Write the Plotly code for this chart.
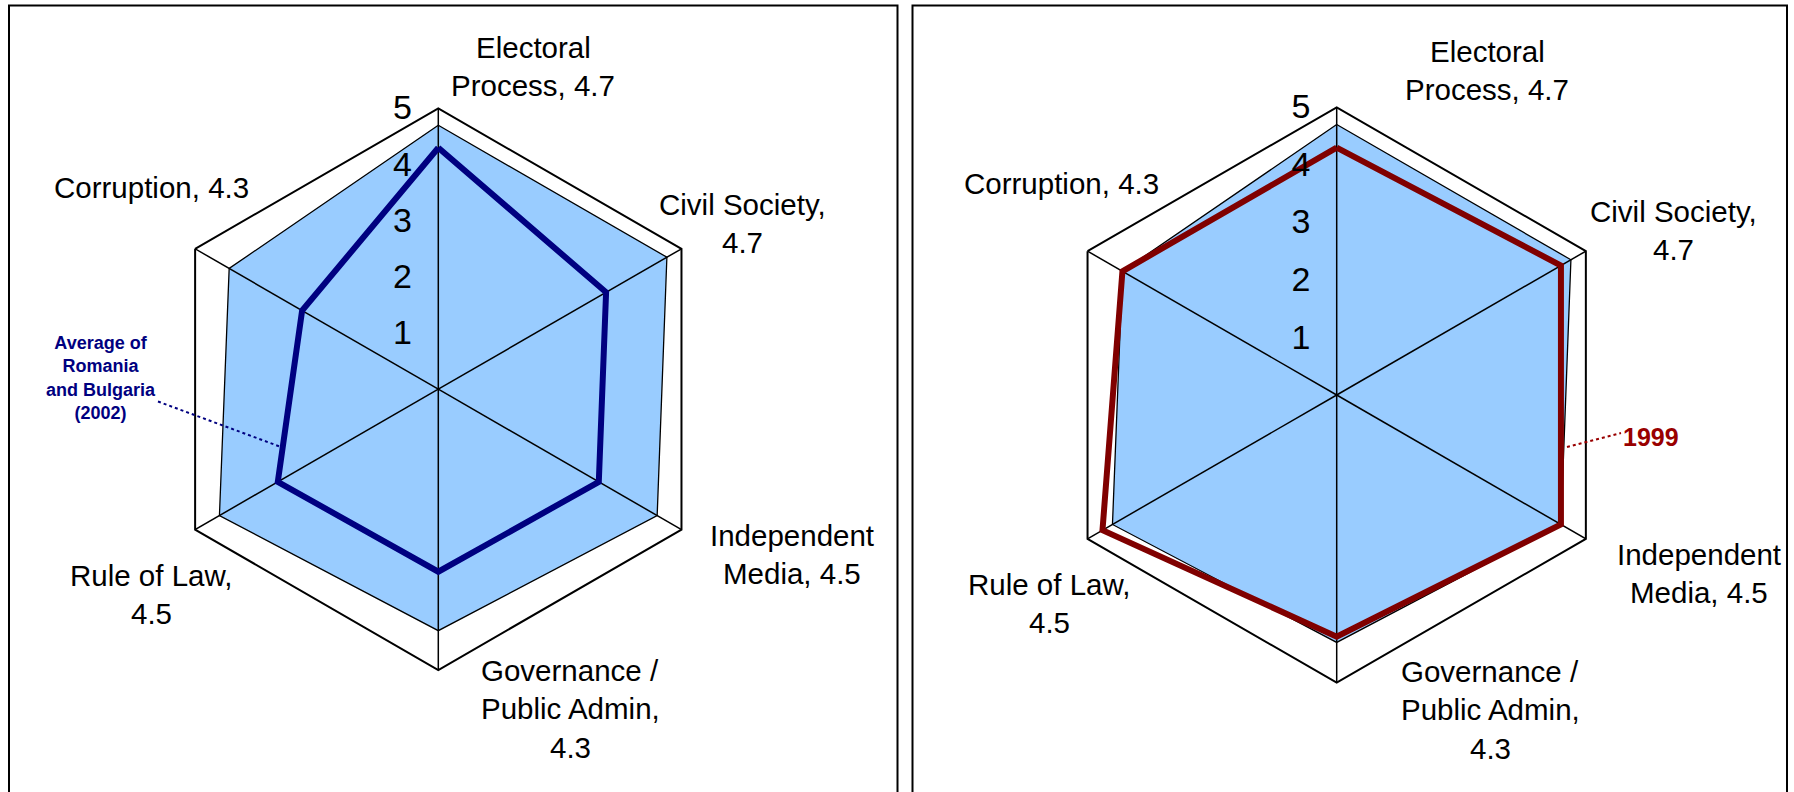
import plotly.graph_objects as go

W, H = 1794, 792

categories = ["Electoral Process", "Civil Society", "Independent Media",
              "Governance / Public Admin", "Rule of Law", "Corruption"]
scores_2002 = [4.7, 4.7, 4.5, 4.3, 4.5, 4.3]
avg_romania_bulgaria = [4.3, 3.45, 3.3, 3.25, 3.3, 2.8]
scores_1999 = [4.3, 4.5, 4.5, 4.2, 4.7, 4.3]
radial_ticks = [1, 2, 3, 4, 5]

# label text, one list per category, "{}" gets the 2002 score
label_lines = [["Electoral", "Process, {}"], ["Civil Society,", "{}"],
               ["Independent", "Media, {}"], ["Governance /", "Public Admin,", "{}"],
               ["Rule of Law,", "{}"], ["Corruption, {}"]]

FONT = "Arial, Liberation Sans, sans-serif"
FILL = "#99CCFF"


def px(x):
    return x / W


def py(y):
    return 1 - y / H


def closed(vals):
    return list(vals) + [vals[0]]


def add_panel(fig, sub, line_vals, line_color):
    theta = closed(categories)
    fig.add_trace(go.Scatterpolar(r=closed(scores_2002), theta=theta, mode="lines",
                                  fill="toself", fillcolor=FILL,
                                  line=dict(color="black", width=1.3),
                                  subplot=sub, showlegend=False, hoverinfo="skip"))
    # spokes drawn over the fill
    for c in categories:
        fig.add_trace(go.Scatterpolar(r=[0, 5], theta=[c, c], mode="lines",
                                      line=dict(color="black", width=1.5),
                                      subplot=sub, showlegend=False, hoverinfo="skip"))
    fig.add_trace(go.Scatterpolar(r=closed(line_vals), theta=theta, mode="lines",
                                  line=dict(color=line_color, width=6),
                                  subplot=sub, showlegend=False))


fig = go.Figure()
add_panel(fig, "polar", avg_romania_bulgaria, "#000080")
add_panel(fig, "polar2", scores_1999, "#800000")

def polar_layout(cx, cy, r):
    return dict(
        domain=dict(x=[px(cx - r), px(cx + r)], y=[py(cy + r), py(cy - r)]),
        gridshape="linear",
        bgcolor="white",
        angularaxis=dict(rotation=90, direction="clockwise", showticklabels=False,
                         ticks="", showgrid=False, showline=True,
                         linecolor="black", linewidth=2, layer="above traces"),
        radialaxis=dict(range=[0, 5], angle=90, side="counterclockwise",
                        tickvals=radial_ticks, showgrid=False, showline=False,
                        ticks="outside", ticklen=14, tickcolor="rgba(0,0,0,0)",
                        tickangle=90,
                        tickfont=dict(family=FONT, size=34, color="black")),
    )

annotations = []
label_pos = {
    "left": [(533, 45), (742, 202), (792, 533), (570, 668), (151, 573), (151, 185)],
    "right": [(1487, 49), (1673, 209), (1699, 552), (1490, 669), (1049, 582), (1061, 182)],
}
for side in ["left", "right"]:
    for lines, val, (x, y) in zip(label_lines, scores_2002, label_pos[side]):
        for i, ln in enumerate(lines):
            annotations.append(dict(text=ln.format(val), x=px(x), y=py(y + 2 + i * 38.5),
                                    xref="paper", yref="paper", showarrow=False,
                                    xanchor="center", yanchor="middle",
                                    font=dict(family=FONT, size=29.5, color="black")))

annotations.append(dict(text="<b>Average of<br>Romania<br>and Bulgaria<br>(2002)</b>",
                        x=px(101), y=py(378), xref="paper", yref="paper",
                        showarrow=False, align="center", xanchor="center", yanchor="middle",
                        font=dict(family=FONT, size=18, color="#000080")))
annotations.append(dict(text="<b>1999</b>", x=px(1621), y=py(437), xref="paper",
                        yref="paper", showarrow=False, xanchor="left", yanchor="middle",
                        font=dict(family=FONT, size=25, color="#990000")))

shapes = [
    dict(type="rect", xref="paper", yref="paper", x0=px(9), x1=px(897.5),
         y0=py(5.5), y1=py(820), line=dict(color="black", width=2)),
    dict(type="rect", xref="paper", yref="paper", x0=px(912.5), x1=px(1787),
         y0=py(5.5), y1=py(820), line=dict(color="black", width=2)),
    dict(type="line", xref="paper", yref="paper", x0=px(158), y0=py(401.5),
         x1=px(281), y1=py(447), line=dict(color="#000080", width=2, dash="dot")),
    dict(type="line", xref="paper", yref="paper", x0=px(1567), y0=py(447),
         x1=px(1621), y1=py(433), line=dict(color="#990000", width=2, dash="dot")),
]

fig.update_layout(
    width=W, height=H,
    margin=dict(l=0, r=0, t=0, b=0),
    paper_bgcolor="white",
    polar=polar_layout(438.3, 389.2, 280.8),
    polar2=polar_layout(1336.7, 395, 287.7),
    annotations=annotations,
    shapes=shapes,
)

fig.write_html("out.html", config={"displayModeBar": False},
               post_script="document.body.style.margin='0';")
